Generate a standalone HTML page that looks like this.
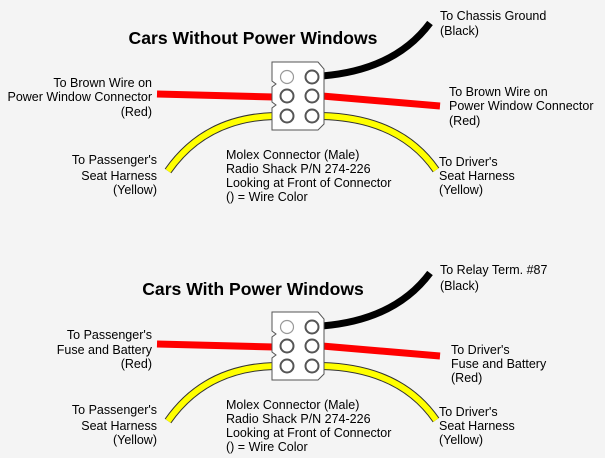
<!DOCTYPE html>
<html><head><meta charset="utf-8"><style>
html,body{margin:0;padding:0;background:#f4f4f4}
svg{display:block}
text{font-family:"Liberation Sans",Arial,sans-serif;font-size:12.5px;fill:#000}
.t{font-size:17.6px;font-weight:bold}
</style></head><body>
<svg width="605" height="458" viewBox="0 0 605 458">
<defs>
<g id="d">
  <path d="M157,94 L274,97" stroke="#f00" stroke-width="7" fill="none"/>
  <path d="M322,96 L440,106" stroke="#f00" stroke-width="7" fill="none"/>
  <path d="M322,76 Q395,70 430,23" stroke="#000" stroke-width="7" fill="none"/>
  <path d="M274,116 Q205,118 168,171" stroke="#333" stroke-width="8" fill="none"/>
  <path d="M274,116 Q205,118 168,171" stroke="#ff0" stroke-width="6" fill="none"/>
  <path d="M322,116 Q400,118 436,170" stroke="#333" stroke-width="8" fill="none"/>
  <path d="M322,116 Q400,118 436,170" stroke="#ff0" stroke-width="6" fill="none"/>
  <path d="M272,62 L318,62 L324,69 L324,124 L318,130 L272,130 L272,108 L276,105 L272,102 L272,87 L276,84 L272,81 Z" fill="#fff" stroke="#555" stroke-width="1"/>
  <circle cx="287" cy="77" r="6.5" fill="#fff" stroke="#999" stroke-width="1.2"/>
  <circle cx="312" cy="77" r="6.5" fill="#fff" stroke="#555" stroke-width="2"/>
  <circle cx="287" cy="96" r="6.5" fill="#fff" stroke="#555" stroke-width="2"/>
  <circle cx="312" cy="96" r="6.5" fill="#fff" stroke="#555" stroke-width="2"/>
  <circle cx="287" cy="116" r="6.5" fill="#fff" stroke="#555" stroke-width="2"/>
  <circle cx="312" cy="116" r="6.5" fill="#fff" stroke="#555" stroke-width="2"/>
  <text x="226" y="159">Molex Connector (Male)</text>
  <text x="226" y="173">Radio Shack P/N 274-226</text>
  <text x="226" y="187">Looking at Front of Connector</text>
  <text x="226" y="201">() = Wire Color</text>
  <text x="157" y="164" text-anchor="end">To Passenger's</text>
  <text x="157" y="180" text-anchor="end">Seat Harness</text>
  <text x="157" y="194" text-anchor="end">(Yellow)</text>
  <text x="439" y="166">To Driver's</text>
  <text x="439" y="180">Seat Harness</text>
  <text x="439" y="194">(Yellow)</text>
</g>
</defs>
<use href="#d"/>
<use href="#d" transform="translate(0,250)"/>
<text class="t" x="253" y="44" text-anchor="middle">Cars Without Power Windows</text>
<text x="440" y="20">To Chassis Ground</text>
<text x="440" y="35">(Black)</text>
<text x="152" y="87" text-anchor="end">To Brown Wire on</text>
<text x="152" y="101" text-anchor="end">Power Window Connector</text>
<text x="152" y="116" text-anchor="end">(Red)</text>
<text x="449" y="96">To Brown Wire on</text>
<text x="449" y="110">Power Window Connector</text>
<text x="449" y="125">(Red)</text>

<text class="t" x="253" y="295" text-anchor="middle">Cars With Power Windows</text>
<text x="440" y="274">To Relay Term. #87</text>
<text x="440" y="290">(Black)</text>
<text x="152" y="339" text-anchor="end">To Passenger's</text>
<text x="152" y="354" text-anchor="end">Fuse and Battery</text>
<text x="152" y="368" text-anchor="end">(Red)</text>
<text x="451" y="354">To Driver's</text>
<text x="451" y="368">Fuse and Battery</text>
<text x="451" y="382">(Red)</text>
</svg>
</body></html>
